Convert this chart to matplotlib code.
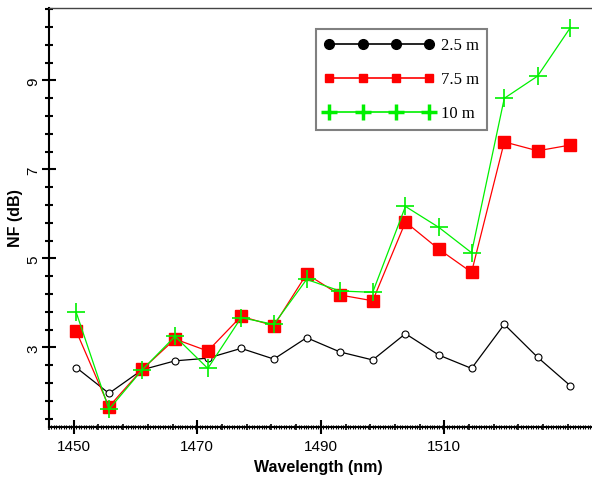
import matplotlib
matplotlib.use('Agg')
import matplotlib.pyplot as plt
from matplotlib.lines import Line2D
import numpy as np

# wavelength of each measured point (nm)
wavelength = [1450.4, 1455.7, 1461.1, 1466.4, 1471.7, 1477.1, 1482.4, 1487.7,
              1493.1, 1498.4, 1503.7, 1509.1, 1514.4, 1519.7, 1525.1, 1530.4]
# noise figure (dB) for three fibre lengths
nf_2p5 = [2.55, 1.97, 2.50, 2.70, 2.76, 2.98, 2.74, 3.22,
          2.90, 2.72, 3.31, 2.83, 2.53, 3.52, 2.78, 2.14]
nf_7p5 = [3.37, 1.67, 2.51, 3.19, 2.92, 3.70, 3.49, 4.65,
          4.18, 4.05, 5.82, 5.21, 4.69, 7.62, 7.42, 7.55]
nf_10 = [3.79, 1.61, 2.50, 3.25, 2.53, 3.67, 3.52, 4.53,
         4.27, 4.24, 6.17, 5.70, 5.13, 8.60, 9.10, 10.19]
labels = ['2.5 m', '7.5 m', '10 m']
xticks = [1450, 1470, 1490, 1510]
yticks = [3, 5, 7, 9]

RED = '#ff0000'
GREEN = '#00f000'

fig = plt.figure(figsize=(5.92, 4.81), dpi=100)
ax = fig.add_axes([0.0828, 0.1108, 0.9172, 0.8715])

ax.plot(wavelength, nf_2p5, color='black', lw=0.9, marker='o', ms=5,
        mfc='white', mec='black', mew=0.8, zorder=3)
ax.plot(wavelength, nf_7p5, color=RED, lw=0.9, marker='s', ms=8.5,
        mfc=RED, mec=RED, zorder=4)
ax.plot(wavelength, nf_10, color=GREEN, lw=0.9, marker='+', ms=13,
        mew=1.2, zorder=5)

ax.set_xlim(1446.5, 1533.9)
ax.set_ylim(1.22, 10.64)

# spines
ax.spines['right'].set_visible(False)
ax.spines['top'].set_linestyle((0, (1, 1)))
ax.spines['top'].set_color('#444444')
ax.spines['top'].set_linewidth(1.0)
ax.spines['left'].set_linewidth(1.5)
ax.spines['bottom'].set_linewidth(1.5)

# x: fine and medium ticks on the main axis, labelled ticks on a secondary one
ax.set_xticks(np.arange(1446, 1534, 4))
ax.set_xticks(np.arange(1446.4, 1534, 0.4), minor=True)
ax.tick_params(axis='x', which='major', direction='inout', length=5, width=1.2,
               labelbottom=False)
ax.tick_params(axis='x', which='minor', direction='inout', length=3, width=0.8)
sec = ax.secondary_xaxis('bottom')
sec.set_xticks(xticks)
sec.tick_params(direction='inout', length=10, width=1.5, labelsize=11, pad=4)
sec.spines['bottom'].set_visible(False)
for t in sec.get_xticklabels():
    t.set_fontfamily('Liberation Sans')

# y ticks
ax.set_yticks(yticks)
ax.set_yticks(np.arange(1.4, 10.61, 0.4), minor=True)
ax.tick_params(axis='y', which='major', direction='inout', length=10, width=1.5,
               labelsize=11, pad=1)
ax.tick_params(axis='y', which='minor', direction='inout', length=6, width=1.5)
for t in ax.get_yticklabels():
    t.set_fontfamily('Liberation Sans')
    t.set_rotation(90)
    t.set_va('center')

fig.text(0.5375, 0.029, 'Wavelength (nm)', ha='center', va='center',
         fontsize=11.5, fontweight='bold', family='Liberation Sans')
fig.text(0.026, 0.547, 'NF (dB)', ha='center', va='center', rotation=90,
         fontsize=11.5, fontweight='bold', family='Liberation Sans')

# legend with filled markers
handles = [
    Line2D([], [], color='black', lw=1.2, marker='o', ms=7, mfc='black', mec='black'),
    Line2D([], [], color=RED, lw=1.2, marker='s', ms=6, mfc=RED, mec=RED),
    Line2D([], [], color=GREEN, lw=1.2, marker='+', ms=11, mew=2.5),
]
leg = ax.legend(handles, labels, loc='upper left', bbox_to_anchor=(0.5338, 0.9376),
                bbox_transform=fig.transFigure, numpoints=4, handlelength=6.6,
                handletextpad=0.4, borderpad=0.5, labelspacing=1.08,
                borderaxespad=0, fancybox=False, framealpha=1,
                prop={'family': 'Liberation Serif', 'size': 12})
leg.get_frame().set_edgecolor('#808080')
leg.get_frame().set_linewidth(1.5)

plt.savefig('out.png', dpi=100)
